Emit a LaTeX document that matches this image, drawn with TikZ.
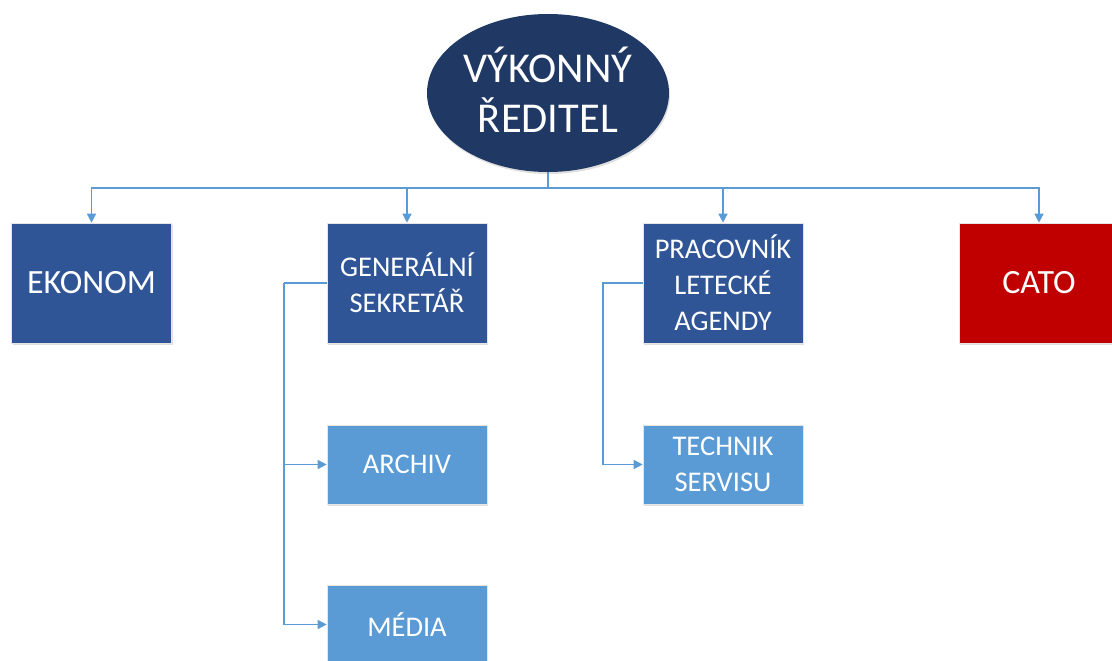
\documentclass[tikz,border=0pt]{standalone}
\usepackage{fontspec}
\setmainfont{Carlito}
\usetikzlibrary{arrows.meta,shapes.geometric,shadows}
\definecolor{ceo}{HTML}{203864}
\definecolor{dark}{HTML}{2F5597}
\definecolor{light}{HTML}{5B9BD5}
\definecolor{redbox}{HTML}{C00000}
\definecolor{line}{HTML}{5B9BD5}
\tikzset{
  box/.style={rectangle, draw=white!80!gray, line width=0.6pt, minimum width=160pt, minimum height=120pt, text=white, align=center, inner sep=0pt,
    drop shadow={opacity=0.25, shadow xshift=1pt, shadow yshift=-2pt}},
  bigtext/.style={font=\fontsize{34}{40}\selectfont},
  smalltext/.style={font=\fontsize{28.5}{36}\selectfont},
  darkbox/.style={box, fill=dark},
  lightbox/.style={box, fill=light, minimum height=79pt},
  conn/.style={draw=line, line width=1.4pt, -{Triangle[length=9pt,width=9pt]}},
  plainconn/.style={draw=line, line width=1.4pt},
}
\begin{document}
\begin{tikzpicture}[x=1pt,y=-1pt]
\useasboundingbox (0,0) rectangle (1112,661);
\clip (0,0) rectangle (1112,661);
\node[ellipse, fill=ceo, minimum width=242pt, minimum height=158pt, inner sep=0pt, text=white, align=center,
  drop shadow={opacity=0.25, shadow xshift=1pt, shadow yshift=-2pt}] (ceo) at (548,93) {};
\node[text=white, align=center, font=\fontsize{42.5}{50}\selectfont, inner sep=0pt] (ceotext) at (548,90) {VÝKONNÝ\\ŘEDITEL};
\node[darkbox, bigtext] (ekonom) at (91.5,283) {EKONOM};
\node[darkbox, smalltext] (gen) at (407,283) {GENERÁLNÍ\\SEKRETÁŘ};
\node[darkbox, smalltext] (prac) at (723,283) {PRACOVNÍK\\LETECKÉ\\AGENDY};
\node[box, fill=redbox, bigtext] (cato) at (1039,283) {CATO};
\node[lightbox, smalltext] (archiv) at (407,464.5) {ARCHIV};
\node[lightbox, smalltext] (media) at (407,624.5) {MÉDIA};
\node[lightbox, smalltext] (tech) at (723,464.5) {TECHNIK\\SERVISU};
\coordinate (bus) at (548,188);
\draw[plainconn] (ceo.south) -- (bus);
\draw[conn] (bus) -| (ekonom.north);
\draw[conn] (bus) -| (gen.north);
\draw[conn] (bus) -| (prac.north);
\draw[conn] (bus) -| (cato.north);
\coordinate (gl) at (284,283);
\coordinate (pl) at (603,283);
\draw[plainconn] (gen.west) -- (gl);
\draw[conn] (gl) |- (archiv.west);
\draw[conn] (gl) |- (media.west);
\draw[conn] (prac.west) -- (pl) |- (tech.west);
\end{tikzpicture}
\end{document}
